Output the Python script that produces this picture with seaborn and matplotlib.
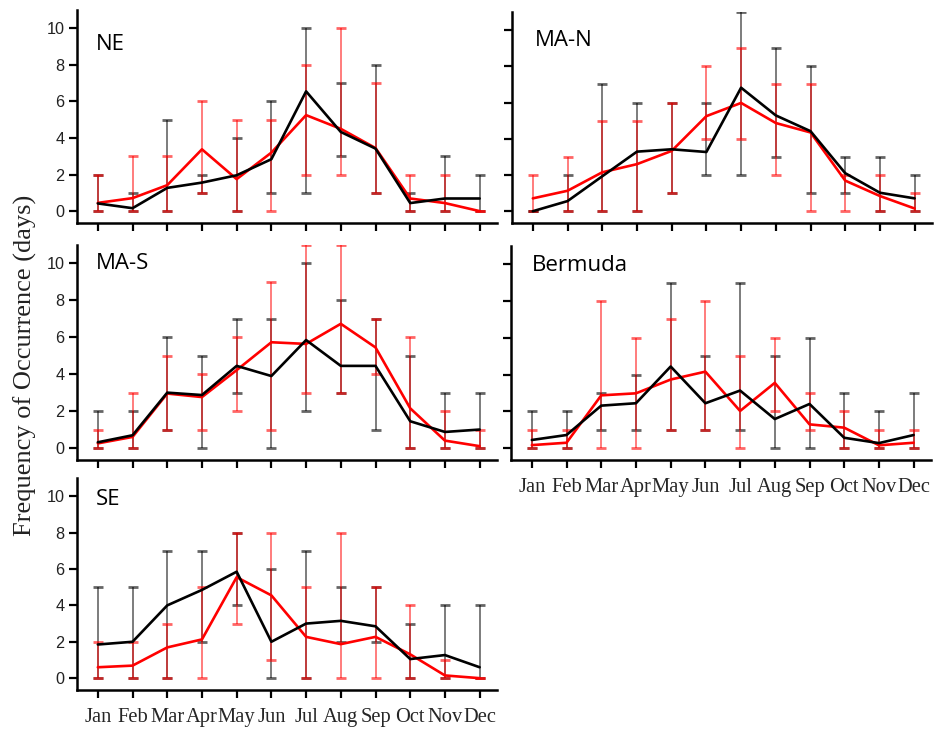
import numpy as np
import pandas as pd
import matplotlib
matplotlib.use("Agg")
import matplotlib.pyplot as plt
import seaborn as sns

months = ["Jan", "Feb", "Mar", "Apr", "May", "Jun", "Jul", "Aug", "Sep", "Oct", "Nov", "Dec"]
regions = ["NE", "MA-N", "MA-S", "Bermuda", "SE"]

# NE
ne_black = [0.42, 0.16, 1.27, 1.56, 1.96, 2.84, 6.55, 4.33, 3.42, 0.44, 0.69, 0.69]
ne_black_lo = [0, 0, 0, 1, 0, 1, 1, 3, 1, 0, 0, 0]
ne_black_hi = [2, 1, 5, 2, 4, 6, 10, 7, 8, 1, 3, 2]
ne_red = [0.45, 0.71, 1.42, 3.38, 1.75, 3.2, 5.25, 4.5, 3.45, 0.69, 0.44, 0.0]
ne_red_lo = [0, 0, 0, 1, 0, 0, 2, 2, 1, 0, 0, 0]
ne_red_hi = [2, 3, 3, 6, 5, 5, 8, 10, 7, 2, 2, 0]

# MA-N
man_black = [0.0, 0.56, 1.93, 3.29, 3.42, 3.27, 6.82, 5.29, 4.42, 2.1, 1.02, 0.71]
man_black_lo = [0, 0, 0, 0, 1, 2, 2, 3, 1, 1, 0, 0]
man_black_hi = [0, 2, 7, 6, 6, 6, 11, 9, 8, 3, 3, 2]
man_red = [0.71, 1.13, 2.15, 2.6, 3.33, 5.25, 5.98, 4.87, 4.35, 1.69, 0.84, 0.15]
man_red_lo = [0, 0, 0, 0, 1, 4, 4, 2, 0, 0, 0, 0]
man_red_hi = [2, 3, 5, 5, 6, 8, 9, 7, 7, 2, 2, 1]

# MA-S
mas_black = [0.31, 0.69, 3.0, 2.87, 4.45, 3.9, 5.85, 4.45, 4.45, 1.45, 0.87, 1.0]
mas_black_lo = [0, 0, 1, 0, 3, 0, 2, 3, 1, 0, 0, 0]
mas_black_hi = [2, 2, 6, 5, 7, 7, 10, 8, 7, 5, 3, 3]
mas_red = [0.25, 0.6, 2.95, 2.76, 4.22, 5.73, 5.64, 6.73, 5.45, 2.15, 0.4, 0.1]
mas_red_lo = [0, 0, 1, 1, 2, 1, 3, 3, 4, 0, 0, 0]
mas_red_hi = [1, 3, 5, 4, 6, 9, 11, 11, 7, 6, 2, 1]

# Bermuda
ber_black = [0.44, 0.71, 2.31, 2.44, 4.44, 2.44, 3.13, 1.58, 2.4, 0.56, 0.27, 0.71]
ber_black_lo = [0, 0, 1, 1, 1, 1, 1, 0, 0, 0, 0, 0]
ber_black_hi = [2, 2, 3, 4, 9, 5, 9, 5, 6, 3, 2, 3]
ber_red = [0.16, 0.29, 2.87, 2.98, 3.73, 4.16, 2.02, 3.55, 1.29, 1.11, 0.15, 0.29]
ber_red_lo = [0, 0, 0, 0, 1, 1, 0, 2, 1, 0, 0, 0]
ber_red_hi = [1, 1, 8, 6, 7, 8, 5, 6, 3, 2, 1, 1]

# SE
se_black = [1.85, 2.0, 4.0, 4.85, 5.85, 2.0, 3.0, 3.15, 2.85, 1.05, 1.27, 0.6]
se_black_lo = [0, 0, 0, 2, 4, 0, 0, 2, 2, 0, 0, 0]
se_black_hi = [5, 5, 7, 7, 8, 6, 7, 5, 5, 3, 4, 4]
se_red = [0.6, 0.69, 1.69, 2.13, 5.55, 4.55, 2.27, 1.87, 2.27, 1.31, 0.15, 0.0]
se_red_lo = [0, 0, 0, 0, 3, 1, 0, 0, 0, 0, 0, 0]
se_red_hi = [2, 2, 3, 5, 8, 8, 5, 8, 5, 4, 1, 0]

data = {
    "NE": (ne_black, ne_black_lo, ne_black_hi, ne_red, ne_red_lo, ne_red_hi),
    "MA-N": (man_black, man_black_lo, man_black_hi, man_red, man_red_lo, man_red_hi),
    "MA-S": (mas_black, mas_black_lo, mas_black_hi, mas_red, mas_red_lo, mas_red_hi),
    "Bermuda": (ber_black, ber_black_lo, ber_black_hi, ber_red, ber_red_lo, ber_red_hi),
    "SE": (se_black, se_black_lo, se_black_hi, se_red, se_red_lo, se_red_hi),
}

sns.set_theme(style="ticks")
plt.rcParams["font.family"] = ["DejaVu Sans"]

W, H = 946, 737
fig = plt.figure(figsize=(W / 100, H / 100), dpi=100)

# axes boxes in pixel coords: left, top, right, bottom
boxes = {
    "NE": (77, 10, 497, 223),
    "MA-N": (512, 12, 932, 223),
    "MA-S": (77, 245, 497, 460),
    "Bermuda": (511, 246, 931, 460),
    "SE": (77, 478, 497, 690),
}
title_pos = {"NE": (-0.06, 9.1), "MA-N": (0.07, 9.4), "MA-S": (-0.06, 10.0),
             "Bermuda": (0.0, 9.95), "SE": (-0.05, 9.8)}
show_xlabels = {"NE": False, "MA-N": False, "MA-S": False, "Bermuda": True, "SE": True}
show_ylabels = {"NE": True, "MA-N": False, "MA-S": True, "Bermuda": False, "SE": True}

x = np.arange(12)
for reg in regions:
    l, t, r, b = boxes[reg]
    ax = fig.add_axes([l / W, 1 - b / H, (r - l) / W, (b - t) / H])
    bk, bklo, bkhi, rd, rdlo, rdhi = data[reg]
    bk = np.array(bk); rd = np.array(rd)
    # error bars (min/max ranges)
    ax.errorbar(x, bk, yerr=[bk - np.array(bklo), np.array(bkhi) - bk], fmt="none",
                ecolor="black", elinewidth=1.2, capsize=3.5, capthick=2.0, alpha=0.6, zorder=2)
    ax.errorbar(x, rd, yerr=[rd - np.array(rdlo), np.array(rdhi) - rd], fmt="none",
                ecolor="red", elinewidth=1.2, capsize=3.5, capthick=2.0, alpha=0.6, zorder=2)
    df = pd.DataFrame({"month": x, "black": bk, "red": rd})
    sns.lineplot(data=df, x="month", y="red", color="red", linewidth=1.9, ax=ax, zorder=3)
    sns.lineplot(data=df, x="month", y="black", color="black", linewidth=1.9, ax=ax, zorder=4)

    ax.set_xlim(-0.6, 11.5)
    ax.set_ylim(-0.65, 11.0)
    ax.set_yticks([0, 2, 4, 6, 8, 10])
    ax.set_xticks(x)
    ax.set_xlabel("")
    ax.set_ylabel("")
    for s in ["top", "right"]:
        ax.spines[s].set_visible(False)
    for s in ["left", "bottom"]:
        ax.spines[s].set_linewidth(1.8)
        ax.spines[s].set_color("black")
    ax.tick_params(axis="both", direction="out", length=6, width=1.6, color="black", pad=3)
    if show_xlabels[reg]:
        ax.set_xticklabels(months, fontfamily="Liberation Serif", fontsize=14.8)
        ax.tick_params(axis="x", pad=7)
    else:
        ax.set_xticklabels([])
    if show_ylabels[reg]:
        ax.set_yticklabels(["0", "2", "4", "6", "8", "10"], fontfamily="Liberation Sans",
                           fontsize=11.7, color="#222222")
    else:
        ax.set_yticklabels([])
    tx, ty = title_pos[reg]
    ax.text(tx, ty, reg, fontfamily="Open Sans", fontsize=16,
            va="center", ha="left", color="black")
    ax.grid(False)

fig.text(25 / W, 1 - 365 / H, "Frequency of Occurrence (days)", rotation=90,
         fontfamily="Liberation Serif", fontsize=19, va="center", ha="center", color="#222222")

fig.savefig("out.png", dpi=100, facecolor="white")
